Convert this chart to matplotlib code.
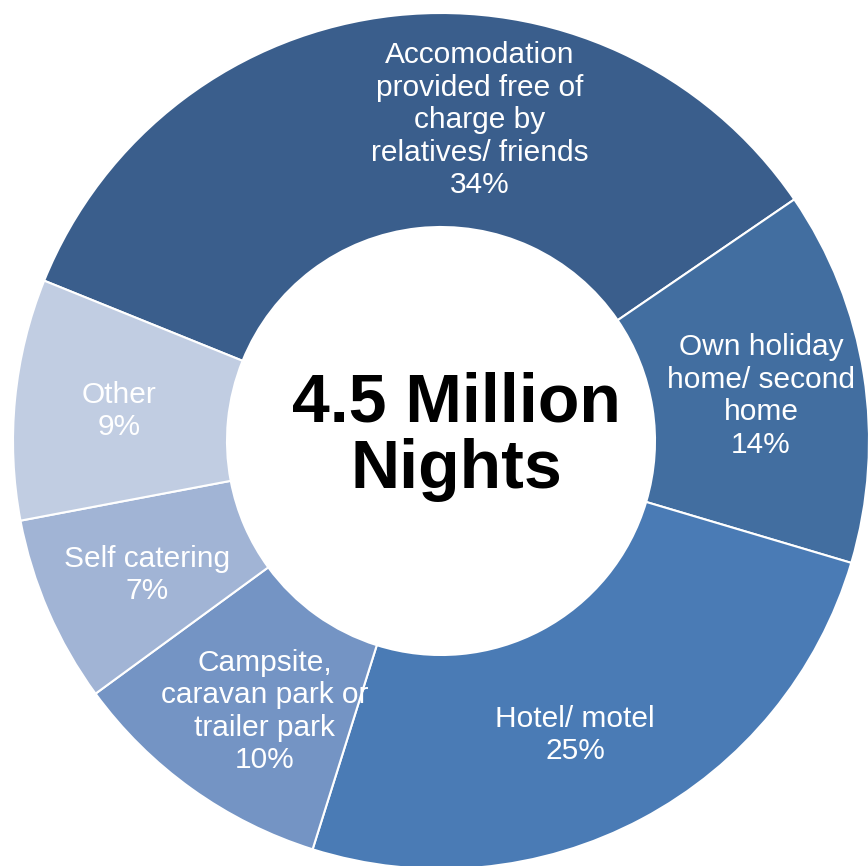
import numpy as np
import matplotlib.pyplot as plt

# nights by type of accommodation (percent)
categories = ["Accomodation\nprovided free of\ncharge by\nrelatives/ friends",
              "Own holiday\nhome/ second\nhome",
              "Hotel/ motel",
              "Campsite,\ncaravan park or\ntrailer park",
              "Self catering",
              "Other"]
shares = [34, 14, 25, 10, 7, 9]
colors = ["#3A5E8C", "#426EA0", "#4A7BB5", "#7494C4", "#A1B4D5", "#C1CDE2"]
centre_text = "4.5 Million\nNights"

plt.rcParams['font.family'] = ['Liberation Sans', 'DejaVu Sans']

fig = plt.figure(figsize=(8.68, 8.66), dpi=100)
ax = fig.add_axes([0, 0, 1, 1])

wedges, _ = ax.pie(shares, colors=colors, startangle=158, counterclock=False,
                   radius=1.0, wedgeprops=dict(width=0.5, edgecolor='white', linewidth=1.5))

# small angular nudges so labels sit where the original puts them
nudge = [-13, -0.9, -3.5, 2.5, 1, 0.3]
for w, lab, pct, dn in zip(wedges, categories, shares, nudge):
    mid = np.deg2rad((w.theta1 + w.theta2) / 2 + dn)
    r = 0.755
    ax.text(r * np.cos(mid), r * np.sin(mid), f"{lab}\n{pct}%", ha='center', va='center',
            color='white', fontsize=21.5, linespacing=1.2)

ax.text(0.037, 0.01, centre_text, ha='center', va='center', fontsize=49,
        fontweight='bold', color='black', linespacing=1.05)

ax.set_aspect('auto')
ax.set_xlim(-441 / 428, 427 / 428)
ax.set_ylim(-425 / 428, 441 / 428)
ax.axis('off')

fig.savefig("out.png", dpi=100)
